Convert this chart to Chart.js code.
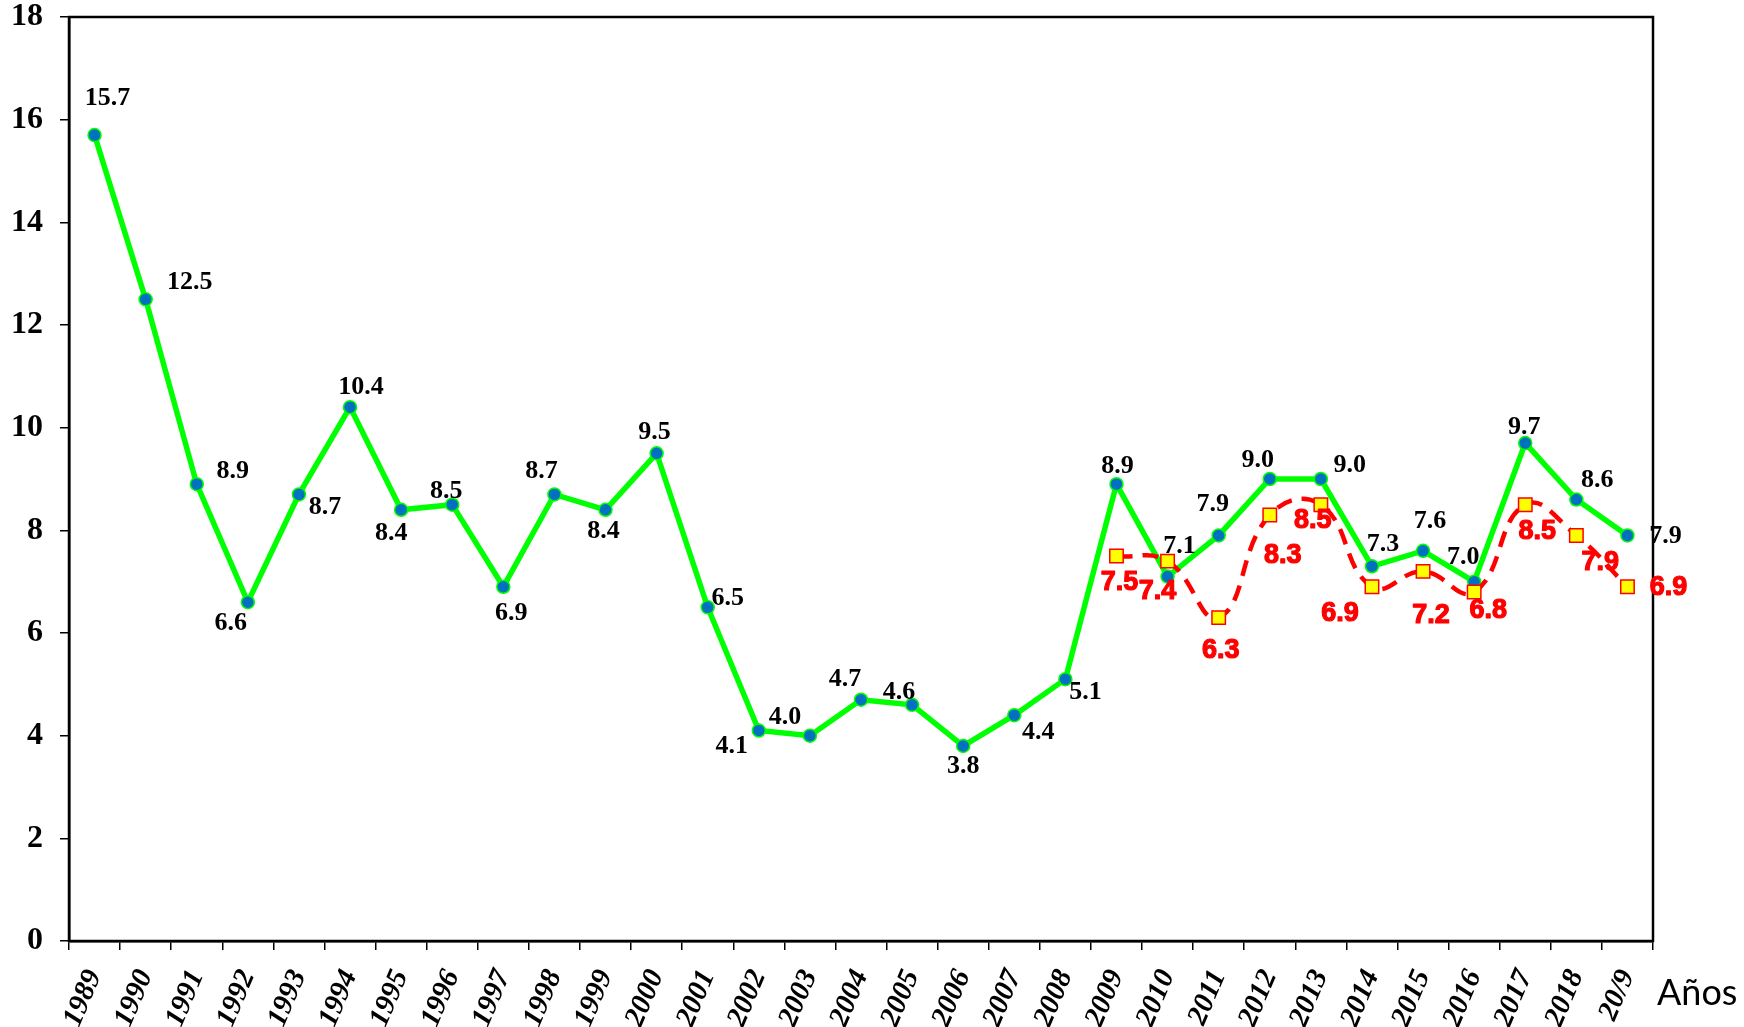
<!DOCTYPE html>
<html>
<head>
<meta charset="utf-8">
<script src="https://cdn.jsdelivr.net/npm/chart.js@4.4.1/dist/chart.umd.min.js"></script>
<style>
  html, body { margin: 0; padding: 0; background: #ffffff; }
  #wrap { width: 1744px; height: 1027px; }
  .warm { position: absolute; left: -9999px; top: 0; }
</style>
</head>
<body>
<div class="warm" style="font-family:'Liberation Serif';font-weight:bold">0123456789.</div>
<div class="warm" style="font-family:'Liberation Serif';font-weight:bold;font-style:italic">0123456789/</div>
<div class="warm" style="font-family:'Liberation Sans';font-weight:bold">0123456789.</div>
<div class="warm" style="font-family:Lato">Años</div>
<div id="wrap"><canvas id="chart" width="1744" height="1027"></canvas></div>
<script>
// Years on the category axis and the text printed under each tick
const years = [1989, 1990, 1991, 1992, 1993, 1994, 1995, 1996, 1997, 1998, 1999, 2000,
  2001, 2002, 2003, 2004, 2005, 2006, 2007, 2008, 2009, 2010, 2011, 2012, 2013, 2014,
  2015, 2016, 2017, 2018, 2019];
const yearLabels = ['1989', '1990', '1991', '1992', '1993', '1994', '1995', '1996', '1997',
  '1998', '1999', '2000', '2001', '2002', '2003', '2004', '2005', '2006', '2007', '2008',
  '2009', '2010', '2011', '2012', '2013', '2014', '2015', '2016', '2017', '2018', '20/9'];

// Main series (green line, blue markers)
const mainSeries = [15.7, 12.5, 8.9, 6.6, 8.7, 10.4, 8.4, 8.5, 6.9, 8.7, 8.4, 9.5,
  6.5, 4.1, 4.0, 4.7, 4.6, 3.8, 4.4, 5.1, 8.9, 7.1, 7.9, 9.0, 9.0, 7.3,
  7.6, 7.0, 9.7, 8.6, 7.9];

// Second series from 2009 on (red dashed curve, yellow squares)
const secondSeries = [null, null, null, null, null, null, null, null, null, null, null, null,
  null, null, null, null, null, null, null, null, 7.5, 7.4, 6.3, 8.3, 8.5, 6.9,
  7.2, 6.8, 8.5, 7.9, 6.9];

// Value axis ticks
const yTicks = [0, 2, 4, 6, 8, 10, 12, 14, 16, 18];

// Where each value label sits relative to its marker (px)
const mainLabelShift = [
  [13, -37], [44, -17], [36, -13], [-17, 21], [26, 13], [11, -20], [-10, 23], [-6, -13],
  [8, 26], [-13, -23], [-2, 21], [-2, -21], [20, -9], [-27, 16], [-25, -18], [-16, -20],
  [-13, -13], [0, 20], [24, 17], [20, 13], [1, -18], [12, -30], [-6, -31], [-12, -19],
  [29, -14], [11, -22], [7, -30], [-11, -24], [-1, -16], [21, -19], [38, 1]
];
const secondLabelShift = {
  20: [3, 27], 21: [-10, 30], 22: [2, 33], 23: [13, 41], 24: [-8, 16], 25: [-32, 27],
  26: [8, 44], 27: [14, 19], 28: [12, 27], 29: [24, 27], 30: [41, 1]
};

const SERIF = "'Liberation Serif', 'Times New Roman', serif";
const SANS = "'Liberation Sans', Arial, sans-serif";

// Box around the plot area
const framePlugin = {
  id: 'frame',
  beforeDatasetsDraw(chart) {
    const { ctx, chartArea: a } = chart;
    ctx.save();
    ctx.strokeStyle = '#000';
    ctx.lineWidth = 2.5;
    ctx.strokeRect(a.left, a.top, a.right - a.left, a.bottom - a.top);
    ctx.restore();
  }
};

// Value labels next to the markers, plus the axis title at the lower right
const labelPlugin = {
  id: 'valueLabels',
  afterDatasetsDraw(chart) {
    const { ctx } = chart;
    ctx.save();
    ctx.textAlign = 'center';
    ctx.textBaseline = 'middle';

    const mainMeta = chart.getDatasetMeta(0);
    ctx.font = 'bold 26px ' + SERIF;
    ctx.fillStyle = '#000';
    mainMeta.data.forEach((pt, i) => {
      const v = mainSeries[i];
      if (v == null) return;
      const s = mainLabelShift[i];
      ctx.fillText(v.toFixed(1), pt.x + s[0], pt.y + s[1]);
    });

    const secMeta = chart.getDatasetMeta(1);
    ctx.font = 'bold 27px ' + SANS;
    ctx.fillStyle = '#FF0000';
    ctx.strokeStyle = '#FF0000';
    ctx.lineWidth = 1.2;
    ctx.lineJoin = 'round';
    secMeta.data.forEach((pt, i) => {
      const v = secondSeries[i];
      if (v == null) return;
      const s = secondLabelShift[i] || [0, 25];
      const t = v.toFixed(1);
      ctx.strokeText(t, pt.x + s[0], pt.y + s[1]);
      ctx.fillText(t, pt.x + s[0], pt.y + s[1]);
    });

    ctx.font = "36px Lato, 'Open Sans', sans-serif";
    ctx.fillStyle = '#000';
    ctx.textAlign = 'left';
    ctx.textBaseline = 'alphabetic';
    ctx.fillText('Años', 1657, 1005);
    ctx.restore();
  }
};

function build() {
  new Chart(document.getElementById('chart'), {
    type: 'line',
    data: {
      labels: yearLabels,
      datasets: [
        {
          label: 'serie principal',
          data: mainSeries,
          order: 1,
          borderColor: '#00FF00',
          borderWidth: 5.5,
          tension: 0,
          pointStyle: 'circle',
          pointRadius: 6.5,
          pointBackgroundColor: '#0070C0',
          pointBorderColor: '#00FF00',
          pointBorderWidth: 1.5
        },
        {
          label: 'serie 2009-2019',
          data: secondSeries,
          order: 0,
          borderColor: '#FF0000',
          borderWidth: 4.5,
          borderDash: [16, 10],
          tension: 0.45,
          spanGaps: false,
          pointStyle: 'rect',
          pointRadius: 9.5,
          pointBackgroundColor: '#FFFF00',
          pointBorderColor: '#FF0000',
          pointBorderWidth: 1.5
        }
      ]
    },
    options: {
      responsive: false,
      animation: false,
      devicePixelRatio: 1,
      layout: { padding: { top: 17, right: 91, left: 0, bottom: 0 } },
      plugins: {
        legend: { display: false },
        tooltip: { enabled: false },
        title: { display: false }
      },
      scales: {
        x: {
          type: 'category',
          offset: true,
          grid: {
            offset: true,
            drawOnChartArea: false,
            drawTicks: true,
            tickLength: 9,
            color: '#000',
            lineWidth: 1.5
          },
          border: { display: true, color: '#000', width: 2.5 },
          ticks: {
            autoSkip: false,
            minRotation: 67,
            maxRotation: 67,
            padding: 16,
            color: '#000',
            font: { family: SERIF, size: 29, style: 'italic', weight: 'bold', lineHeight: 1 }
          },
          afterFit(scale) {
            scale.height = 86;
            scale.paddingLeft = 0;
            scale.paddingRight = 0;
          }
        },
        y: {
          min: 0,
          max: 18,
          afterBuildTicks(scale) { scale.ticks = yTicks.map(v => ({ value: v })); },
          grid: {
            drawOnChartArea: false,
            drawTicks: true,
            tickLength: 9,
            color: '#000',
            lineWidth: 1.5
          },
          border: { display: true, color: '#000', width: 2.5 },
          ticks: {
            padding: 17,
            color: '#000',
            font: { family: SERIF, size: 32, weight: 'bold', lineHeight: 1 }
          },
          afterFit(scale) {
            scale.width = 69;
            scale.paddingTop = 0;
            scale.paddingBottom = 0;
          }
        }
      }
    },
    plugins: [framePlugin, labelPlugin]
  });
}

const fontLoads = [
  'bold 26px "Liberation Serif"',
  'italic bold 29px "Liberation Serif"',
  'bold 26px "Liberation Sans"',
  '36px Lato'
].map(f => document.fonts.load(f).catch(() => null));
Promise.all(fontLoads).then(() => document.fonts.ready).then(build, build);
</script>
</body>
</html>
